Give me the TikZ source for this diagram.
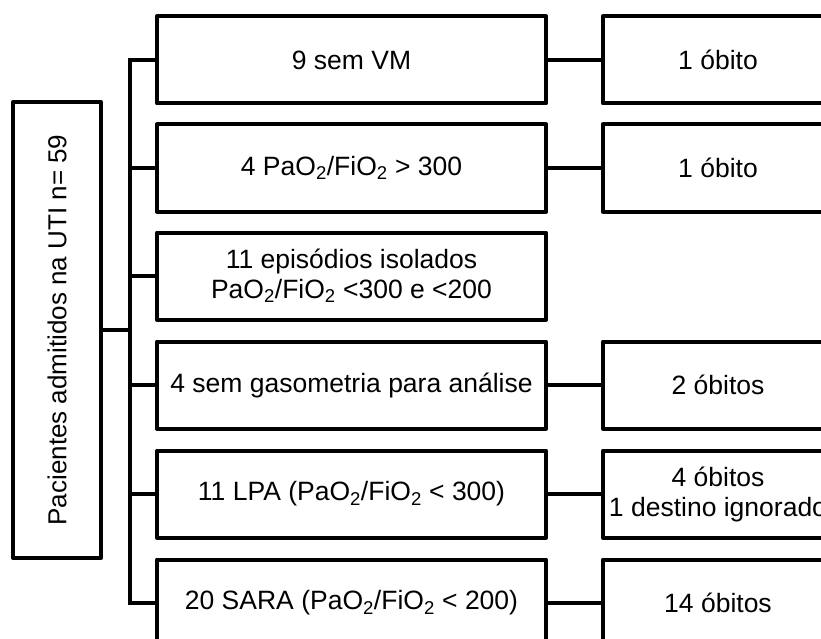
\documentclass[tikz,border=0pt]{standalone}
\usepackage{fontspec}
\setmainfont{Liberation Sans}
\newcommand{\pf}{PaO\textsubscript{2}/FiO\textsubscript{2}}
\begin{document}
\begin{tikzpicture}[x=1pt,y=-1pt,
  box/.style={draw, line width=4pt, fill=white, inner sep=1pt, align=center,
    font=\fontsize{26.5}{30}\selectfont, line join=round},
  mid/.style={box, minimum width=389pt, minimum height=87pt},
  res/.style={box, minimum width=230pt, minimum height=87pt},
  link/.style={line width=4pt, line join=miter}]
\useasboundingbox (0,0) rectangle (821,639);

\node[box, rotate=90, minimum width=456pt, minimum height=88pt, font=\fontsize{26}{30}\selectfont] (L) at (57,330) {Pacientes admitidos na UTI n= 59};

\node[mid] (M1) at (351.5,60) {9 sem VM};
\node[mid] (M2) at (351.5,168) {4 \pf{} > 300};
\node[mid] (M3) at (351.5,276) {11 episódios isolados\\\pf{} <300 e <200};
\node[mid] (M4) at (351.5,385) {4 sem gasometria para análise};
\node[mid] (M5) at (351.5,494) {11 LPA (\pf{} < 300)};
\node[mid] (M6) at (351.5,603) {20 SARA (\pf{} < 200)};

\node[res] (R1) at (718,60) {1 óbito};
\node[res] (R2) at (718,168) {1 óbito};
\node[res] (R4) at (718,385) {2 óbitos};
\node[res] (R5) at (718,494) {4 óbitos\\1 destino ignorado};
\node[res] (R6) at (718,603) {14 óbitos};

\coordinate (bx) at (130,0);

\draw[link] (M1.west) -- (M1.west -| bx) -- (M6.west -| bx) -- (M6.west);
\draw[link] (L.south) -- (L.south -| bx);
\foreach \m in {M2,M3,M4,M5} \draw[link] (\m.west -| bx) -- (\m.west);

\foreach \a/\b in {M1/R1,M2/R2,M4/R4,M5/R5,M6/R6} \draw[link] (\a.east) -- (\b.west);
\end{tikzpicture}
\end{document}
